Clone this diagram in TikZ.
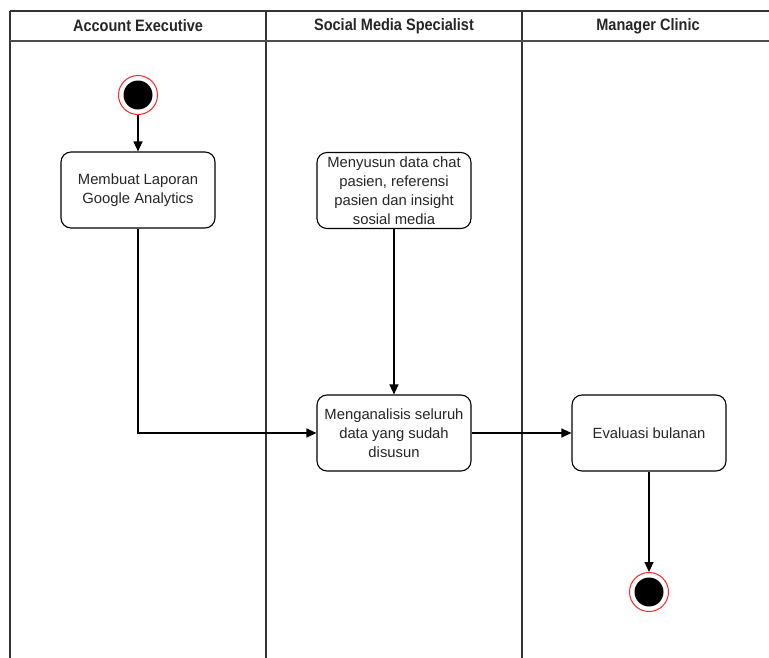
\documentclass[tikz,border=0pt]{standalone}
\usepackage{fontspec}
\setmainfont{Liberation Sans}
\usetikzlibrary{arrows.meta}
\tikzset{
  lane/.style={draw=black!80, line width=1.2pt},
  hdr/.style={font=\fontsize{16.5}{18}\selectfont\bfseries, text=black!85},
  act/.style={draw=black, line width=1.1pt, rounded corners=10pt, fill=white,
    minimum width=154pt, minimum height=76pt, align=center, inner sep=2pt,
    font=\fontsize{14.8}{19}\selectfont, text=black!85},
  flow/.style={draw=black, line width=1.1pt, -{Triangle[length=10pt,width=9pt]}},
  startst/.style={circle, fill=black, minimum size=29pt, inner sep=0pt},
  ring/.style={circle, draw=red!85, line width=1pt, fill=white, minimum size=39pt, inner sep=0pt}
}
\begin{document}
\begin{tikzpicture}[x=1pt,y=-1pt]
\useasboundingbox (0,0) rectangle (769,657);
\fill[white] (0,0) rectangle (769,657);
\begin{scope}
\clip (0,0) rectangle (769,657);
% swimlane frame
\draw[lane] (10,11) -- (790,11);
\draw[lane] (10,11) -- (10,700);
\draw[lane] (266,11) -- (266,700);
\draw[lane] (522,11) -- (522,700);
\draw[draw=black!70, line width=2pt] (10,41) -- (790,41);
\end{scope}
\node[hdr] (h1) at (138,26) {\scalebox{0.88}[1]{Account Executive}};
\node[hdr] (h2) at (394,26) {\scalebox{0.88}[1]{Social Media Specialist}};
\node[hdr] (h3) at (648,26) {\scalebox{0.88}[1]{Manager Clinic}};
% start
\node[ring] (startring) at (138,95) {};
\node[startst] (start) at (138,95) {};
% activities
\node[act] (a1) at (138,190) {Membuat Laporan\\Google Analytics};
\node[act] (a2) at (394,190.5) {Menyusun data chat\\pasien, referensi\\pasien dan insight\\sosial media};
\node[act] (a3) at (394,433) {Menganalisis seluruh\\data yang sudah\\disusun};
\node[act] (a4) at (649,433) {Evaluasi bulanan};
% end
\node[ring] (endring) at (649,592) {};
\node[startst] (end) at (649,592) {};
% flows
\draw[flow] (startring.south) -- (a1.north);
\draw[flow] (a1.south) |- (a3.west);
\draw[flow] (a2.south) -- (a3.north);
\draw[flow] (a3.east) -- (a4.west);
\draw[flow] (a4.south) -- (endring.north);
\end{tikzpicture}
\end{document}
